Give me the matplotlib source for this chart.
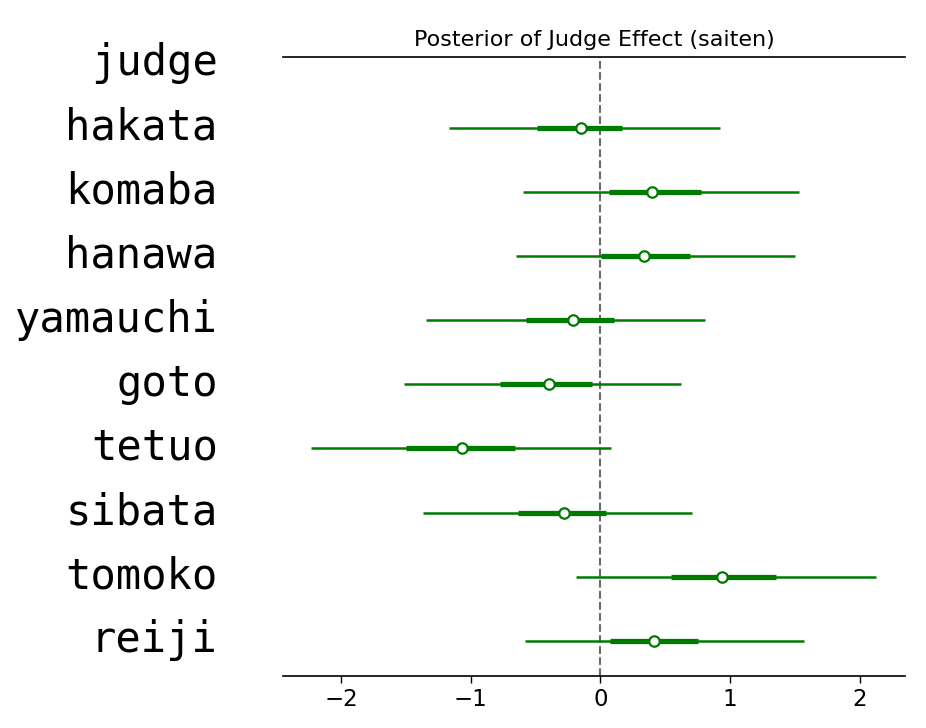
import matplotlib
matplotlib.use("Agg")
import matplotlib.pyplot as plt
import matplotlib.transforms as mtransforms
import numpy as np

judges = ["hakata", "komaba", "hanawa", "yamauchi", "goto", "tetuo", "sibata", "tomoko", "reiji"]
hdi_low = [-1.17, -0.595, -0.654, -1.35, -1.52, -2.236, -1.37, -0.19, -0.585]
q25 = [-0.49, 0.066, 0.007, -0.573, -0.778, -1.503, -0.636, 0.544, 0.076]
median = [-0.15, 0.40, 0.336, -0.21, -0.396, -1.07, -0.285, 0.938, 0.41]
q75 = [0.166, 0.776, 0.69, 0.103, -0.067, -0.66, 0.044, 1.354, 0.754]
hdi_high = [0.92, 1.53, 1.50, 0.805, 0.62, 0.081, 0.71, 2.13, 1.57]
header = "judge"
title = "Posterior of Judge Effect (saiten)"

W, H = 926, 728
fig = plt.figure(figsize=(W / 100, H / 100), dpi=100)
ax = fig.add_axes([283 / W, 1 - 676 / H, (905 - 283) / W, (676 - 57.3) / H])

n = len(judges)
ys = np.arange(n)[::-1].astype(float)  # hakata at top
color = "#007a00"

ax.hlines(ys, hdi_low, hdi_high, color=color, lw=1.8, zorder=2)
ax.hlines(ys, q25, q75, color=color, lw=3.8, zorder=3)
ax.plot(median, ys, "o", ms=7.5, mfc="white", mec=color, mew=1.6, zorder=4, ls="none")
ax.axvline(0, color="#6a6a6a", ls="--", lw=1.5, zorder=1)

ax.set_xlim(-2.45, 2.35)
ax.set_ylim(-0.55, 9.1)

ax.set_yticks(list(ys) + [float(n)])
ax.set_yticklabels(judges + [header], family="DejaVu Sans Mono", fontsize=30.3)
ax.tick_params(axis="y", length=0, pad=47)
offset = mtransforms.ScaledTranslation(0, 5 / 100, fig.dpi_scale_trans)
for lab in ax.get_yticklabels():
    lab.set_transform(lab.get_transform() + offset)
ax.set_xticks([-2, -1, 0, 1, 2])
ax.tick_params(axis="x", labelsize=16.5, length=5, width=1)

for s in ["left", "right"]:
    ax.spines[s].set_visible(False)
ax.spines["top"].set_linewidth(1.2)
ax.spines["bottom"].set_linewidth(1.2)

ax.set_title(title, fontsize=16, pad=8)

fig.savefig("out.png", dpi=100)
